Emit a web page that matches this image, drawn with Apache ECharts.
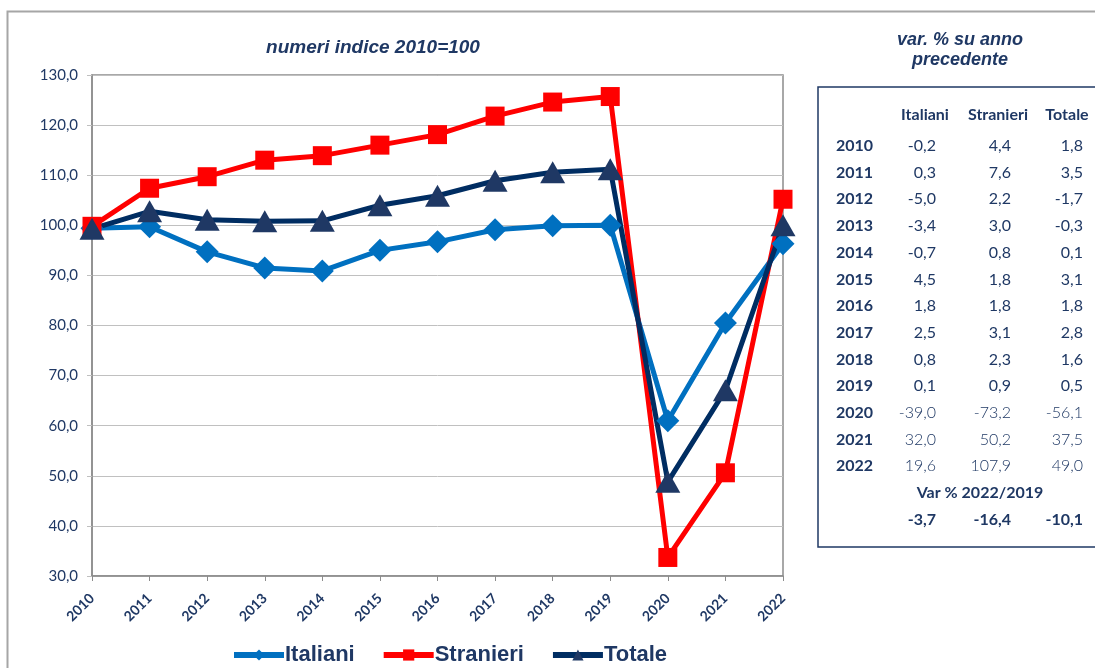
<!DOCTYPE html>
<html>
<head>
<meta charset="utf-8">
<script src="https://cdn.jsdelivr.net/npm/echarts@6/dist/echarts.min.js"></script>
<style>
  html, body { margin: 0; padding: 0; background: #fff; }
  #chart { width: 1095px; height: 668px; }
</style>
</head>
<body>
<div id="chart"></div>
<script>
// indici 2010=100
let years = ['2010','2011','2012','2013','2014','2015','2016','2017','2018','2019','2020','2021','2022'];
let italiani = [99.4, 99.7, 94.7, 91.5, 90.9, 95.0, 96.7, 99.1, 99.9, 100.0, 61.0, 80.5, 96.3];
let stranieri = [99.8, 107.4, 109.7, 113.0, 113.9, 116.0, 118.1, 121.8, 124.6, 125.7, 33.7, 50.6, 105.2];
let totale = [99.3, 102.8, 101.1, 100.8, 100.9, 104.0, 105.9, 108.9, 110.6, 111.2, 48.8, 67.1, 100.0];

// tabella var. % su anno precedente
let varItaliani = [-0.2, 0.3, -5.0, -3.4, -0.7, 4.5, 1.8, 2.5, 0.8, 0.1, -39.0, 32.0, 19.6];
let varStranieri = [4.4, 7.6, 2.2, 3.0, 0.8, 1.8, 1.8, 3.1, 2.3, 0.9, -73.2, 50.2, 107.9];
let varTotale = [1.8, 3.5, -1.7, -0.3, 0.1, 3.1, 1.8, 2.8, 1.6, 0.5, -56.1, 37.5, 49.0];
let var2022su2019 = [-3.7, -16.4, -10.1];

let navy = '#1F3864';
let fmt = (v) => v.toFixed(1).replace('.', ',');

let graphics = [];
// cornice esterna
graphics.push({type: 'rect', left: 5, top: 9, shape: {width: 1200, height: 700},
  style: {fill: 'none', stroke: '#A6A6A6', lineWidth: 2}, z: -1});
// titolo tabella
graphics.push({type: 'text', x: 960, y: 40, style: {text: 'var. % su anno', font: 'italic bold 18px "Liberation Sans", Arial', fill: navy, align: 'center', verticalAlign: 'middle'}});
graphics.push({type: 'text', x: 960, y: 60, style: {text: 'precedente', font: 'italic bold 18px "Liberation Sans", Arial', fill: navy, align: 'center', verticalAlign: 'middle'}});
// box tabella
graphics.push({type: 'rect', shape: {x: 818, y: 87, width: 400, height: 460},
  style: {fill: 'none', stroke: navy, lineWidth: 1.5}});

let colRight = [936, 1011, 1083];
let headers = ['Italiani', 'Stranieri', 'Totale'];
let headerX = [925, 998, 1067];
headers.forEach(function (h, i) {
  graphics.push({type: 'text', x: headerX[i], y: 115, style: {text: h, font: 'bold 16px Lato', fill: navy, align: 'center', verticalAlign: 'middle'}});
});
years.forEach(function (y, r) {
  let ty = 146 + r * 26.67;
  let weight = r >= 10 ? '300' : 'normal';
  graphics.push({type: 'text', x: 836, y: ty, style: {text: y, font: 'bold 16px Lato', fill: navy, align: 'left', verticalAlign: 'middle'}});
  [varItaliani, varStranieri, varTotale].forEach(function (arr, c) {
    graphics.push({type: 'text', x: colRight[c], y: ty, style: {text: fmt(arr[r]), font: weight + ' 16px Lato', fill: navy, align: 'right', verticalAlign: 'middle'}});
  });
});
graphics.push({type: 'text', x: 980, y: 493, style: {text: 'Var % 2022/2019', font: 'bold 16px Lato', fill: navy, align: 'center', verticalAlign: 'middle'}});
var2022su2019.forEach(function (v, c) {
  graphics.push({type: 'text', x: colRight[c], y: 520, style: {text: fmt(v), font: 'bold 16px Lato', fill: navy, align: 'right', verticalAlign: 'middle'}});
});

let myChart = echarts.init(document.getElementById('chart'));
let option = {
  animation: false,
  title: {
    text: 'numeri indice 2010=100',
    left: 368, top: 33, textAlign: 'center',
    textStyle: {fontFamily: '"Liberation Sans", Arial', fontStyle: 'italic', fontWeight: 'bold', fontSize: 19, color: navy}
  },
  grid: {
    left: 92, right: 312, top: 75, bottom: 92,
    outerBoundsMode: 'none',
    show: true, borderColor: '#8C8C8C', borderWidth: 1.5
  },
  legend: {
    left: 226, top: 639,
    itemWidth: 50, itemHeight: 14, itemGap: 26,
    lineStyle: {width: 6},
    textStyle: {fontFamily: '"Liberation Sans", Arial', fontWeight: 'bold', fontSize: 22, color: navy, padding: [0, 0, 0, -4]},
    data: ['Italiani', 'Stranieri', 'Totale']
  },
  xAxis: {
    type: 'category',
    boundaryGap: false,
    data: years,
    axisLine: {lineStyle: {color: '#8C8C8C', width: 1.5}},
    axisTick: {show: true, length: 5, lineStyle: {color: '#8C8C8C'}},
    axisLabel: {rotate: 45, fontFamily: 'Lato', fontWeight: 'bold', fontSize: 14, color: navy, margin: 20, interval: 0}
  },
  yAxis: {
    type: 'value',
    min: 30, max: 130, interval: 10,
    axisLine: {show: true, lineStyle: {color: '#8C8C8C', width: 1.5}},
    axisTick: {show: true, length: 5, lineStyle: {color: '#BFBFBF'}},
    splitLine: {lineStyle: {color: '#C0C0C0', width: 1}},
    axisLabel: {formatter: fmt, fontFamily: 'Lato', fontSize: 15, color: navy, margin: 14}
  },
  series: [
    {
      name: 'Italiani', type: 'line', data: italiani,
      symbol: 'diamond', symbolSize: 23,
      lineStyle: {color: '#0070C0', width: 5},
      itemStyle: {color: '#0070C0'}
    },
    {
      name: 'Stranieri', type: 'line', data: stranieri,
      symbol: 'rect', symbolSize: 19,
      lineStyle: {color: '#FF0000', width: 5},
      itemStyle: {color: '#FF0000'}
    },
    {
      name: 'Totale', type: 'line', data: totale,
      symbol: 'triangle', symbolSize: [25, 22],
      lineStyle: {color: '#002D62', width: 5},
      itemStyle: {color: '#1F3864'}
    }
  ],
  graphic: graphics
};
myChart.setOption(option);
</script>
</body>
</html>
